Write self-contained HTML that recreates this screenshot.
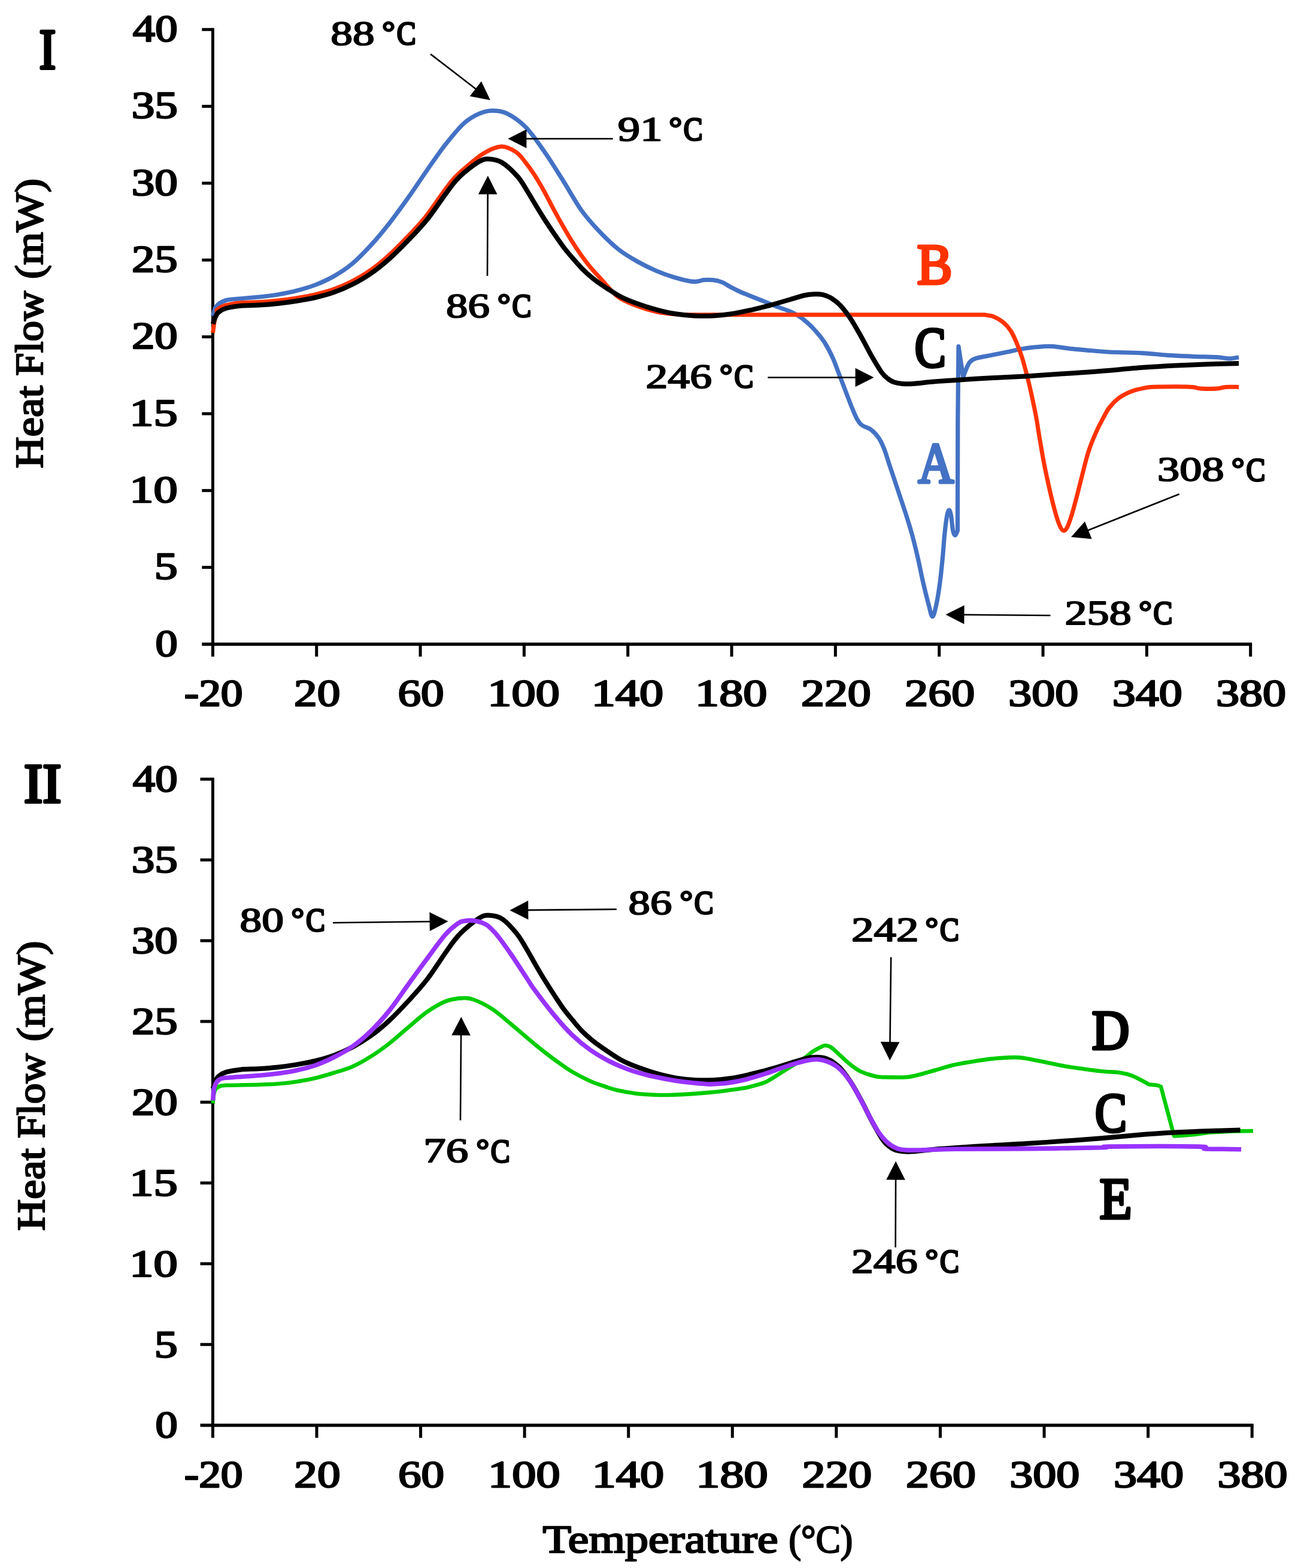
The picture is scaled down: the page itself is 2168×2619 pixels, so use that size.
<!DOCTYPE html>
<html lang="en">
<head>
<meta charset="utf-8">
<title>DSC thermograms</title>
<style>
html,body{margin:0;padding:0;background:#fff;}
body{width:2168px;height:2619px;overflow:hidden;}
svg{display:block;}
svg text{font-family:"Liberation Serif","DejaVu Serif",serif;font-weight:normal;stroke-linejoin:round;}
</style>
</head>
<body>
<svg width="2168" height="2619" viewBox="0 0 2168 2619">
<rect width="2168" height="2619" fill="#fff"/>
<g id="plot1">
<rect x="352.90" y="46.80" width="5.0" height="1049.90" fill="#000"/>
<rect x="337.30" y="1073.30" width="1753.90" height="5.4" fill="#000"/>
<rect x="337.30" y="46.80" width="18.10" height="5.0" fill="#000"/>
<rect x="337.30" y="175.14" width="18.10" height="5.0" fill="#000"/>
<rect x="337.30" y="303.48" width="18.10" height="5.0" fill="#000"/>
<rect x="337.30" y="431.81" width="18.10" height="5.0" fill="#000"/>
<rect x="337.30" y="560.15" width="18.10" height="5.0" fill="#000"/>
<rect x="337.30" y="688.49" width="18.10" height="5.0" fill="#000"/>
<rect x="337.30" y="816.83" width="18.10" height="5.0" fill="#000"/>
<rect x="337.30" y="945.16" width="18.10" height="5.0" fill="#000"/>
<rect x="526.23" y="1076.00" width="5.0" height="20.70" fill="#000"/>
<rect x="699.56" y="1076.00" width="5.0" height="20.70" fill="#000"/>
<rect x="872.89" y="1076.00" width="5.0" height="20.70" fill="#000"/>
<rect x="1046.22" y="1076.00" width="5.0" height="20.70" fill="#000"/>
<rect x="1219.55" y="1076.00" width="5.0" height="20.70" fill="#000"/>
<rect x="1392.88" y="1076.00" width="5.0" height="20.70" fill="#000"/>
<rect x="1566.21" y="1076.00" width="5.0" height="20.70" fill="#000"/>
<rect x="1739.54" y="1076.00" width="5.0" height="20.70" fill="#000"/>
<rect x="1912.87" y="1076.00" width="5.0" height="20.70" fill="#000"/>
<rect x="2086.20" y="1076.00" width="5.0" height="20.70" fill="#000"/>
<path d="M355.6 528.0C356.2 525.8 357.8 518.0 359.5 514.5C361.2 511.0 363.4 509.0 366.0 507.0C368.6 505.0 371.6 503.7 375.0 502.5C378.4 501.3 376.9 501.1 386.6 500.0C396.3 498.9 420.2 497.3 433.2 496.0C446.1 494.7 453.9 493.8 464.3 492.0C474.7 490.2 485.0 488.2 495.4 485.5C505.8 482.8 516.0 480.0 526.4 476.0C536.8 472.0 547.1 467.4 557.5 461.5C567.9 455.6 578.2 449.0 588.6 440.3C599.0 431.6 609.2 420.8 619.6 409.5C630.0 398.2 640.3 385.6 650.7 372.4C661.1 359.2 671.4 344.8 681.8 330.2C692.1 315.6 702.4 299.8 712.8 285.0C723.1 270.2 733.5 254.7 743.9 241.5C754.3 228.3 765.6 214.5 775.0 205.9C784.4 197.3 792.2 193.5 800.0 190.0C807.8 186.5 813.8 184.9 821.6 184.8C829.4 184.7 837.2 184.9 846.6 189.5C856.0 194.1 867.4 201.6 877.7 212.1C888.1 222.6 898.4 237.8 908.7 252.5C919.1 267.2 929.4 284.1 939.8 300.5C950.2 316.9 960.5 336.5 970.9 351.0C981.3 365.5 991.6 376.6 1002.0 387.5C1012.4 398.4 1022.6 408.3 1033.0 416.5C1043.3 424.7 1053.7 430.6 1064.1 436.5C1074.5 442.4 1084.8 447.5 1095.2 452.0C1105.6 456.5 1116.5 460.3 1126.2 463.3C1135.9 466.3 1146.8 468.8 1153.4 469.9C1160.0 471.0 1162.2 470.3 1165.8 469.9C1169.4 469.5 1171.0 468.1 1175.2 467.7C1179.4 467.3 1185.5 467.1 1190.7 467.7C1195.9 468.3 1201.0 469.4 1206.2 471.5C1211.4 473.6 1216.6 477.5 1221.8 480.2C1227.0 482.9 1232.1 485.6 1237.3 487.9C1242.5 490.2 1245.0 491.0 1252.8 494.1C1260.6 497.2 1276.0 503.4 1283.9 506.5C1291.8 509.6 1294.3 510.8 1300.0 513.0C1305.7 515.2 1312.5 517.2 1318.0 519.5C1323.5 521.8 1327.8 523.8 1332.8 527.0C1337.8 530.2 1343.1 534.2 1348.0 538.5C1352.9 542.8 1357.2 547.0 1362.0 552.5C1366.8 558.0 1372.2 563.9 1377.0 571.5C1381.8 579.1 1386.6 588.2 1391.0 598.0C1395.4 607.8 1399.9 621.0 1403.6 630.5C1407.3 640.0 1409.8 646.8 1413.0 655.0C1416.2 663.2 1419.6 672.7 1422.6 680.0C1425.6 687.3 1428.2 694.0 1431.0 699.0C1433.8 704.0 1435.4 706.9 1439.4 710.0C1443.4 713.1 1450.3 714.3 1455.0 717.8C1459.7 721.3 1463.8 725.8 1467.4 731.1C1471.0 736.4 1473.6 741.9 1476.7 749.7C1479.8 757.5 1482.9 768.4 1486.0 777.7C1489.1 787.0 1492.3 796.3 1495.4 805.6C1498.5 814.9 1501.6 824.3 1504.7 833.6C1507.8 842.9 1510.9 851.8 1514.0 861.6C1517.1 871.4 1520.2 881.2 1523.3 892.6C1526.4 904.0 1529.5 916.4 1532.6 929.9C1535.7 943.4 1538.9 959.9 1542.0 973.4C1545.1 986.9 1548.7 1001.3 1551.3 1010.7C1553.9 1020.1 1555.4 1030.0 1557.5 1030.0C1559.6 1030.0 1561.6 1020.1 1563.7 1010.7C1565.8 1001.3 1568.1 986.9 1569.9 973.4C1571.7 959.9 1573.3 943.4 1574.6 929.9C1575.9 916.4 1576.5 904.0 1577.7 892.6C1578.9 881.2 1580.4 868.3 1581.7 861.6C1583.0 854.9 1584.2 852.2 1585.4 852.2C1586.6 852.2 1587.5 855.9 1588.6 861.6C1589.6 867.3 1590.6 881.0 1591.7 886.4C1592.8 891.8 1594.1 894.2 1595.4 894.2C1596.7 894.2 1598.7 887.7 1599.4 886.4L1599.8 700.0L1601.0 578.7L1608.8 630.0C1609.6 627.9 1611.6 621.6 1613.4 617.5C1615.2 613.4 1617.0 608.2 1619.6 605.1C1622.2 602.0 1623.8 600.7 1629.0 598.9C1634.2 597.1 1641.9 596.0 1650.7 594.2C1659.5 592.4 1671.5 590.1 1681.8 588.0C1692.1 585.9 1702.4 583.3 1712.8 581.8C1723.2 580.2 1736.1 579.2 1743.9 578.7C1751.7 578.2 1751.7 578.0 1759.5 578.7C1767.3 579.4 1780.2 581.6 1790.5 582.7C1800.8 583.8 1811.2 584.6 1821.6 585.5C1832.0 586.4 1838.2 587.3 1852.7 588.0C1867.2 588.7 1892.6 588.9 1908.9 589.8C1925.2 590.7 1936.6 592.4 1950.4 593.3C1964.2 594.2 1978.0 594.7 1991.8 595.3C2005.6 595.9 2023.1 596.1 2033.2 596.7C2043.3 597.3 2046.6 598.9 2052.6 598.9C2058.6 598.9 2066.3 597.1 2069.1 596.7" fill="none" stroke="#4472C4" stroke-width="7.2" stroke-linejoin="round" stroke-linecap="butt"/>
<path d="M355.6 556.0C356.1 552.5 357.4 540.8 358.5 535.0C359.6 529.2 361.8 524.0 362.5 521.0C363.2 518.0 360.4 518.9 362.6 517.1C364.8 515.3 369.4 512.1 375.9 510.2C382.4 508.3 392.1 506.6 401.6 505.7C411.1 504.8 422.5 505.1 432.9 504.5C443.3 503.9 453.5 503.1 463.8 502.0C474.1 500.9 484.4 499.5 494.6 497.9C504.9 496.2 515.1 494.5 525.3 492.1C535.5 489.7 545.6 487.2 555.8 483.6C566.0 480.0 576.1 475.7 586.3 470.5C596.5 465.3 606.6 459.6 616.8 452.6C627.0 445.6 637.2 437.4 647.4 428.3C657.6 419.2 668.0 408.6 678.2 398.0C688.5 387.4 698.6 377.1 708.9 364.4C719.2 351.6 732.0 332.2 739.9 321.5C747.8 310.8 750.9 306.3 756.2 300.2C761.5 294.1 769.0 287.5 771.5 285.0C777.3 280.4 795.2 263.9 806.1 257.2C817.0 250.5 827.8 245.3 837.1 244.8C846.4 244.3 855.3 249.7 862.1 254.1C868.9 258.5 872.5 264.7 877.7 271.2C882.9 277.7 888.0 284.9 893.2 292.9C898.4 300.9 903.5 310.0 908.7 319.3C913.9 328.6 919.1 339.2 924.3 348.8C929.5 358.4 934.6 367.7 939.8 376.8C945.0 385.9 950.2 394.9 955.4 403.2C960.6 411.5 965.7 419.2 970.9 426.5C976.1 433.8 981.2 440.5 986.4 446.7C991.6 452.9 996.4 457.6 1002.0 463.8C1007.6 470.0 1014.2 478.3 1019.8 484.0C1025.4 489.7 1027.6 493.3 1035.4 498.0C1043.2 502.7 1056.1 508.2 1066.4 512.0C1076.8 515.8 1087.1 518.8 1097.5 521.0C1107.9 523.2 1119.8 524.2 1128.6 525.0C1137.3 525.8 1146.4 525.7 1150.0 525.8L1644.5 525.8C1647.1 526.3 1654.8 526.8 1660.0 528.9C1665.2 531.0 1670.9 534.4 1675.6 538.3C1680.3 542.2 1684.4 546.8 1688.0 552.2C1691.6 557.6 1694.2 563.6 1697.3 570.9C1700.4 578.1 1704.0 587.9 1706.6 595.7C1709.2 603.5 1710.7 609.7 1712.8 617.5C1714.9 625.3 1717.0 633.5 1719.1 642.3C1721.2 651.1 1723.2 660.4 1725.3 670.3C1727.4 680.1 1729.7 691.4 1731.5 701.4C1733.3 711.4 1734.0 717.8 1736.1 730.0C1738.2 742.2 1741.1 759.9 1743.9 774.6C1746.8 789.3 1750.1 804.6 1753.2 818.1C1756.3 831.6 1759.7 845.3 1762.5 855.4C1765.3 865.5 1768.0 873.5 1770.3 878.7C1772.6 883.9 1774.4 886.1 1776.5 886.4C1778.6 886.6 1780.4 884.9 1782.7 880.2C1785.0 875.6 1787.7 867.8 1790.5 858.5C1793.3 849.2 1796.7 836.2 1799.8 824.3C1802.9 812.4 1806.1 798.9 1809.2 787.0C1812.3 775.1 1814.9 763.7 1818.5 752.8C1822.1 741.9 1826.8 731.0 1830.9 721.7C1835.0 712.4 1839.7 703.8 1843.3 697.0C1846.9 690.2 1848.7 686.2 1852.7 681.0C1856.7 675.8 1862.7 669.6 1867.5 665.7C1872.3 661.8 1876.7 659.7 1881.3 657.4C1885.9 655.1 1890.5 653.4 1895.1 651.9C1899.7 650.4 1904.3 649.5 1908.9 648.6C1913.5 647.7 1913.6 646.9 1922.8 646.4C1932.0 645.9 1952.7 645.8 1964.2 645.8C1975.7 645.8 1984.9 645.8 1991.8 646.4C1998.7 647.0 1998.7 648.6 2005.6 649.1C2012.5 649.6 2026.3 649.6 2033.2 649.1C2040.1 648.6 2041.0 646.9 2047.0 646.4C2053.0 645.9 2065.4 646.4 2069.1 646.4" fill="none" stroke="#FF3300" stroke-width="7.0" stroke-linejoin="round" stroke-linecap="butt"/>
<path d="M355.6 541.0C356.3 539.0 358.4 532.2 360.0 529.0C361.6 525.8 362.0 523.8 364.9 521.5C367.8 519.2 371.1 516.8 377.3 515.0C383.5 513.2 392.8 511.6 402.1 510.7C411.4 509.8 422.8 510.1 433.2 509.5C443.6 508.9 453.9 508.1 464.3 507.0C474.7 505.9 485.0 504.5 495.4 502.8C505.8 501.1 516.0 499.4 526.4 497.0C536.8 494.6 547.1 492.0 557.5 488.3C567.9 484.6 578.2 480.3 588.6 475.0C599.0 469.7 609.2 463.9 619.6 456.7C630.0 449.5 640.3 441.2 650.7 432.0C661.1 422.8 671.4 412.2 681.8 401.5C692.1 390.8 702.4 380.3 712.8 367.5C723.1 354.7 736.0 335.2 743.9 324.5C751.8 313.8 754.8 309.5 760.0 303.5C765.2 297.5 768.3 294.1 775.0 288.5C781.7 282.9 793.3 273.8 800.0 270.0C806.7 266.2 809.0 265.4 815.4 265.6C821.8 265.9 830.3 266.6 838.5 271.5C846.7 276.4 857.6 287.2 864.6 295.0C871.6 302.8 875.0 310.1 880.2 318.3C885.4 326.5 890.5 335.8 895.7 344.2C900.9 352.6 906.0 361.0 911.2 369.0C916.4 377.0 921.6 384.8 926.8 392.3C932.0 399.8 937.1 407.4 942.3 414.1C947.5 420.8 952.7 426.8 957.9 432.7C963.1 438.6 968.2 444.6 973.4 449.8C978.6 455.0 983.7 459.5 988.9 463.8C994.1 468.1 996.3 470.1 1004.5 475.5C1012.7 480.9 1027.2 490.8 1037.9 496.3C1048.6 501.8 1058.6 505.1 1068.9 508.7C1079.2 512.3 1089.5 515.5 1099.5 518.1C1109.5 520.7 1118.6 522.8 1128.6 524.3C1138.6 525.8 1149.2 526.9 1159.6 527.4C1169.9 527.9 1180.3 527.9 1190.7 527.4C1201.1 526.9 1211.5 525.8 1221.8 524.3C1232.1 522.8 1242.4 520.4 1252.8 518.1C1263.2 515.8 1276.0 512.5 1283.9 510.5C1291.8 508.5 1293.0 508.0 1300.0 506.0C1307.0 504.0 1318.4 500.5 1325.9 498.3C1333.4 496.1 1339.8 494.1 1345.0 493.0C1350.2 491.9 1352.8 491.6 1357.0 491.4C1361.2 491.2 1366.2 491.2 1370.0 491.6C1373.8 492.0 1376.7 492.8 1380.0 494.0C1383.3 495.2 1386.1 496.3 1390.0 499.0C1393.9 501.7 1398.5 504.5 1403.6 510.1C1408.7 515.7 1415.0 523.9 1420.8 532.5C1426.5 541.1 1432.3 551.5 1438.1 561.8C1443.9 572.0 1449.7 584.0 1455.4 594.0C1461.2 604.0 1468.0 615.6 1472.6 622.0C1477.2 628.4 1479.6 629.8 1483.0 632.5C1486.4 635.2 1489.0 636.9 1493.0 638.3C1497.0 639.7 1501.9 640.5 1507.1 640.9C1512.3 641.3 1515.8 641.5 1524.4 640.9C1533.0 640.3 1548.2 638.4 1558.9 637.5C1569.6 636.6 1573.3 636.5 1588.6 635.5C1603.9 634.5 1630.0 632.7 1650.7 631.5C1671.4 630.3 1692.1 629.6 1712.8 628.4C1733.5 627.2 1754.3 625.7 1775.0 624.3C1795.7 622.9 1814.8 621.8 1837.1 620.0C1859.4 618.2 1887.7 615.4 1908.9 613.8C1930.1 612.2 1945.8 611.4 1964.2 610.5C1982.6 609.6 2001.9 608.9 2019.4 608.3C2036.9 607.7 2060.8 607.1 2069.1 606.9" fill="none" stroke="#000000" stroke-width="8.0" stroke-linejoin="round" stroke-linecap="butt"/>
<text transform="translate(221.82,68.85) scale(1.1889,1)" font-size="62.95" fill="#000" stroke="#000" stroke-width="2.5" xml:space="preserve">40</text>
<text transform="translate(219.64,197.19) scale(1.2255,1)" font-size="62.95" fill="#000" stroke="#000" stroke-width="2.5" xml:space="preserve">35</text>
<text transform="translate(219.64,325.52) scale(1.2242,1)" font-size="62.95" fill="#000" stroke="#000" stroke-width="2.5" xml:space="preserve">30</text>
<text transform="translate(219.95,453.86) scale(1.2205,1)" font-size="62.95" fill="#000" stroke="#000" stroke-width="2.5" xml:space="preserve">25</text>
<text transform="translate(219.95,582.20) scale(1.2193,1)" font-size="62.95" fill="#000" stroke="#000" stroke-width="2.5" xml:space="preserve">20</text>
<text transform="translate(216.32,710.54) scale(1.2793,1)" font-size="62.95" fill="#000" stroke="#000" stroke-width="2.5" xml:space="preserve">15</text>
<text transform="translate(216.33,838.88) scale(1.2779,1)" font-size="62.95" fill="#000" stroke="#000" stroke-width="2.5" xml:space="preserve">10</text>
<text transform="translate(257.82,967.21) scale(1.2385,1)" font-size="62.95" fill="#000" stroke="#000" stroke-width="2.5" xml:space="preserve">5</text>
<text transform="translate(259.44,1095.55) scale(1.1824,1)" font-size="62.95" fill="#000" stroke="#000" stroke-width="2.5" xml:space="preserve">0</text>
<text transform="translate(307.68,1179.05) scale(1.1642,1)" font-size="63.10" fill="#000" stroke="#000" stroke-width="2.5" xml:space="preserve">-20</text>
<text transform="translate(491.06,1179.05) scale(1.2248,1)" font-size="63.10" fill="#000" stroke="#000" stroke-width="2.5" xml:space="preserve">20</text>
<text transform="translate(664.47,1179.05) scale(1.2235,1)" font-size="63.10" fill="#000" stroke="#000" stroke-width="2.5" xml:space="preserve">60</text>
<text transform="translate(814.37,1179.05) scale(1.2725,1)" font-size="63.10" fill="#000" stroke="#000" stroke-width="2.5" xml:space="preserve">100</text>
<text transform="translate(987.70,1179.05) scale(1.2725,1)" font-size="63.10" fill="#000" stroke="#000" stroke-width="2.5" xml:space="preserve">140</text>
<text transform="translate(1161.03,1179.05) scale(1.2725,1)" font-size="63.10" fill="#000" stroke="#000" stroke-width="2.5" xml:space="preserve">180</text>
<text transform="translate(1337.95,1179.05) scale(1.2341,1)" font-size="63.10" fill="#000" stroke="#000" stroke-width="2.5" xml:space="preserve">220</text>
<text transform="translate(1511.28,1179.05) scale(1.2341,1)" font-size="63.10" fill="#000" stroke="#000" stroke-width="2.5" xml:space="preserve">260</text>
<text transform="translate(1684.30,1179.05) scale(1.2375,1)" font-size="63.10" fill="#000" stroke="#000" stroke-width="2.5" xml:space="preserve">300</text>
<text transform="translate(1857.63,1179.05) scale(1.2375,1)" font-size="63.10" fill="#000" stroke="#000" stroke-width="2.5" xml:space="preserve">340</text>
<text transform="translate(2030.96,1179.05) scale(1.2375,1)" font-size="63.10" fill="#000" stroke="#000" stroke-width="2.5" xml:space="preserve">380</text>
<text transform="translate(71.10,781.40) rotate(-90)" y="0" font-size="65.95" fill="#000" stroke="#000" stroke-width="2.4"><tspan x="-0.78" textLength="137.87" lengthAdjust="spacingAndGlyphs">Heat</tspan> <tspan x="153.77" textLength="141.78" lengthAdjust="spacingAndGlyphs">Flow</tspan> <tspan x="315.49" textLength="167.92" lengthAdjust="spacingAndGlyphs">(mW)</tspan></text>
<text transform="translate(65.46,114.90) scale(0.8718,1)" font-size="95.73" fill="#000" stroke="#000" stroke-width="5.0" xml:space="preserve">I</text>
<text y="75.00" font-size="57.44" fill="#000" stroke="#000" stroke-width="2.0"><tspan x="552.38" textLength="73.44" lengthAdjust="spacingAndGlyphs">88</tspan> <tspan x="638.33" y="70.31" font-size="48.51" stroke-width="2.9" textLength="21.59" lengthAdjust="spacingAndGlyphs">°</tspan><tspan x="662.69" y="74.34" font-size="55.95" stroke-width="3.4" textLength="31.89" lengthAdjust="spacingAndGlyphs">C</tspan></text>
<text y="235.10" font-size="57.44" fill="#000" stroke="#000" stroke-width="2.0"><tspan x="1031.89" textLength="74.69" lengthAdjust="spacingAndGlyphs">91</tspan> <tspan x="1117.43" y="230.41" font-size="48.51" stroke-width="2.9" textLength="21.59" lengthAdjust="spacingAndGlyphs">°</tspan><tspan x="1141.79" y="234.44" font-size="55.95" stroke-width="3.4" textLength="31.89" lengthAdjust="spacingAndGlyphs">C</tspan></text>
<text y="529.70" font-size="57.44" fill="#000" stroke="#000" stroke-width="2.0"><tspan x="745.09" textLength="72.81" lengthAdjust="spacingAndGlyphs">86</tspan> <tspan x="831.03" y="525.01" font-size="48.51" stroke-width="2.9" textLength="21.59" lengthAdjust="spacingAndGlyphs">°</tspan><tspan x="855.39" y="529.04" font-size="55.95" stroke-width="3.4" textLength="31.89" lengthAdjust="spacingAndGlyphs">C</tspan></text>
<text y="647.90" font-size="57.44" fill="#000" stroke="#000" stroke-width="2.0"><tspan x="1078.44" textLength="110.57" lengthAdjust="spacingAndGlyphs">246</tspan> <tspan x="1202.13" y="643.21" font-size="48.51" stroke-width="2.9" textLength="21.59" lengthAdjust="spacingAndGlyphs">°</tspan><tspan x="1226.49" y="647.24" font-size="55.95" stroke-width="3.4" textLength="31.89" lengthAdjust="spacingAndGlyphs">C</tspan></text>
<text y="1042.80" font-size="57.44" fill="#000" stroke="#000" stroke-width="2.0"><tspan x="1778.53" textLength="111.20" lengthAdjust="spacingAndGlyphs">258</tspan> <tspan x="1902.23" y="1038.11" font-size="48.51" stroke-width="2.9" textLength="21.59" lengthAdjust="spacingAndGlyphs">°</tspan><tspan x="1926.59" y="1042.14" font-size="55.95" stroke-width="3.4" textLength="31.89" lengthAdjust="spacingAndGlyphs">C</tspan></text>
<text y="803.20" font-size="57.44" fill="#000" stroke="#000" stroke-width="2.0"><tspan x="1933.14" textLength="111.50" lengthAdjust="spacingAndGlyphs">308</tspan> <tspan x="2057.13" y="798.51" font-size="48.51" stroke-width="2.9" textLength="21.59" lengthAdjust="spacingAndGlyphs">°</tspan><tspan x="2081.49" y="802.54" font-size="55.95" stroke-width="3.4" textLength="31.89" lengthAdjust="spacingAndGlyphs">C</tspan></text>
<text transform="translate(1531.80,473.60) scale(0.9339,1)" font-size="94.35" fill="#FF3300" stroke="#FF3300" stroke-width="5.0" xml:space="preserve">B</text>
<text transform="translate(1527.76,612.50) scale(0.8268,1)" font-size="94.64" fill="#000" stroke="#000" stroke-width="5.0" xml:space="preserve">C</text>
<text transform="translate(1533.38,806.20) scale(0.8763,1)" font-size="94.55" fill="#4472C4" stroke="#4472C4" stroke-width="5.0" xml:space="preserve">A</text>
<line x1="719.1" y1="90.4" x2="795.9" y2="149.5" stroke="#000" stroke-width="2.6"/><polygon points="818.9,167.2 784.7,160.8 804.0,135.8" fill="#000"/>
<line x1="1023.7" y1="231.7" x2="877.4" y2="231.7" stroke="#000" stroke-width="2.6"/><polygon points="848.4,231.7 879.4,215.9 879.4,247.5" fill="#000"/>
<line x1="814.0" y1="460.7" x2="814.7" y2="322.5" stroke="#000" stroke-width="2.6"/><polygon points="814.9,293.5 830.5,324.6 798.9,324.4" fill="#000"/>
<line x1="1282.4" y1="630.5" x2="1430.6" y2="630.5" stroke="#000" stroke-width="2.6"/><polygon points="1459.6,630.5 1428.6,646.3 1428.6,614.7" fill="#000"/>
<line x1="1754.5" y1="1028.0" x2="1608.5" y2="1026.7" stroke="#000" stroke-width="2.6"/><polygon points="1579.5,1026.5 1610.6,1011.0 1610.4,1042.6" fill="#000"/>
<line x1="1969.7" y1="825.3" x2="1816.0" y2="886.3" stroke="#000" stroke-width="2.6"/><polygon points="1789.0,897.0 1812.0,870.9 1823.6,900.3" fill="#000"/>
</g>
<g id="plot2">
<rect x="352.90" y="1298.90" width="5.0" height="1102.70" fill="#000"/>
<rect x="334.50" y="2377.90" width="1759.20" height="5.4" fill="#000"/>
<rect x="334.50" y="1298.90" width="20.90" height="5.0" fill="#000"/>
<rect x="334.50" y="1433.80" width="20.90" height="5.0" fill="#000"/>
<rect x="334.50" y="1568.70" width="20.90" height="5.0" fill="#000"/>
<rect x="334.50" y="1703.60" width="20.90" height="5.0" fill="#000"/>
<rect x="334.50" y="1838.50" width="20.90" height="5.0" fill="#000"/>
<rect x="334.50" y="1973.40" width="20.90" height="5.0" fill="#000"/>
<rect x="334.50" y="2108.30" width="20.90" height="5.0" fill="#000"/>
<rect x="334.50" y="2243.20" width="20.90" height="5.0" fill="#000"/>
<rect x="526.48" y="2380.60" width="5.0" height="21.00" fill="#000"/>
<rect x="700.06" y="2380.60" width="5.0" height="21.00" fill="#000"/>
<rect x="873.64" y="2380.60" width="5.0" height="21.00" fill="#000"/>
<rect x="1047.22" y="2380.60" width="5.0" height="21.00" fill="#000"/>
<rect x="1220.80" y="2380.60" width="5.0" height="21.00" fill="#000"/>
<rect x="1394.38" y="2380.60" width="5.0" height="21.00" fill="#000"/>
<rect x="1567.96" y="2380.60" width="5.0" height="21.00" fill="#000"/>
<rect x="1741.54" y="2380.60" width="5.0" height="21.00" fill="#000"/>
<rect x="1915.12" y="2380.60" width="5.0" height="21.00" fill="#000"/>
<rect x="2088.70" y="2380.60" width="5.0" height="21.00" fill="#000"/>
<path d="M355.6 1843.0C355.9 1840.5 356.4 1832.1 357.2 1828.0C358.0 1823.9 358.7 1820.8 360.5 1818.5C362.3 1816.2 364.8 1815.0 368.0 1814.0C371.2 1813.0 369.2 1813.1 380.0 1812.7C390.8 1812.3 419.0 1812.1 433.0 1811.7C447.0 1811.3 453.6 1811.1 464.0 1810.3C474.4 1809.5 485.0 1808.3 495.4 1806.7C505.8 1805.1 516.0 1803.2 526.4 1800.8C536.8 1798.3 547.1 1795.2 557.5 1792.0C567.9 1788.8 578.2 1786.1 588.6 1781.5C599.0 1776.9 609.2 1771.0 619.6 1764.5C630.0 1758.0 640.3 1750.6 650.7 1742.5C661.1 1734.4 671.4 1724.7 681.8 1716.0C692.1 1707.3 702.4 1697.7 712.8 1690.5C723.1 1683.3 734.6 1676.4 743.9 1672.6C753.2 1668.8 761.0 1667.9 768.8 1667.4C776.6 1666.9 781.7 1666.5 790.5 1669.5C799.3 1672.5 811.2 1678.4 821.6 1685.1C832.0 1691.8 840.8 1700.1 852.7 1709.9C864.6 1719.7 881.3 1734.3 893.2 1744.1C905.1 1753.9 913.9 1760.8 924.3 1768.5C934.7 1776.2 945.0 1783.8 955.4 1790.0C965.8 1796.2 977.1 1801.8 986.4 1806.0C995.7 1810.2 1003.8 1812.5 1011.3 1815.0C1018.8 1817.5 1022.6 1819.1 1031.1 1821.0C1039.6 1822.9 1051.8 1825.2 1062.1 1826.5C1072.4 1827.8 1082.8 1828.3 1093.2 1828.7C1103.6 1829.1 1113.9 1829.0 1124.3 1828.7C1134.7 1828.4 1145.1 1827.8 1155.4 1827.1C1165.8 1826.4 1176.1 1825.6 1186.4 1824.6C1196.8 1823.6 1207.1 1822.3 1217.5 1820.9C1227.9 1819.5 1238.2 1818.5 1248.6 1816.2C1258.9 1813.9 1269.2 1811.6 1279.6 1806.9C1289.9 1802.2 1300.3 1794.4 1310.7 1788.0C1321.1 1781.6 1334.0 1773.8 1341.8 1768.5C1349.6 1763.2 1352.1 1759.9 1357.3 1756.5C1362.5 1753.1 1369.2 1749.6 1372.8 1747.9C1376.4 1746.2 1376.5 1746.0 1379.1 1746.3C1381.7 1746.5 1384.3 1746.6 1388.4 1749.4C1392.5 1752.2 1398.7 1758.7 1403.9 1763.4C1409.1 1768.1 1414.3 1773.2 1419.5 1777.4C1424.7 1781.6 1429.8 1785.5 1435.0 1788.3C1440.2 1791.1 1445.3 1792.8 1450.5 1794.5C1455.7 1796.2 1460.9 1797.7 1466.1 1798.5C1471.3 1799.3 1473.8 1799.2 1481.6 1799.3C1489.4 1799.4 1504.5 1799.8 1512.7 1799.3C1521.0 1798.8 1522.9 1798.0 1531.1 1796.0C1539.3 1794.0 1551.8 1790.4 1562.1 1787.5C1572.4 1784.6 1582.8 1781.2 1593.2 1778.8C1603.6 1776.4 1613.9 1774.9 1624.3 1773.2C1634.7 1771.5 1645.1 1769.7 1655.4 1768.6C1665.8 1767.5 1678.6 1766.8 1686.4 1766.4C1694.2 1766.0 1696.8 1766.0 1702.0 1766.4C1707.2 1766.8 1709.7 1767.2 1717.5 1768.6C1725.3 1770.0 1738.2 1772.7 1748.6 1774.8C1758.9 1776.9 1769.2 1779.2 1779.6 1781.0C1789.9 1782.8 1800.2 1784.2 1810.7 1785.6C1821.2 1787.0 1832.4 1788.5 1842.3 1789.5C1852.2 1790.5 1861.8 1790.4 1869.9 1791.6C1878.0 1792.8 1883.6 1794.1 1891.0 1796.9C1898.4 1799.7 1910.4 1806.6 1914.3 1808.6L1918.6 1811.3L1933.4 1812.8L1939.0 1815.0L1961.0 1897.5L1975.0 1896.8L1995.0 1895.0L2020.0 1891.5L2060.0 1889.5L2093.0 1889.0" fill="none" stroke="#00CC00" stroke-width="6.6" stroke-linejoin="round" stroke-linecap="butt"/>
<path d="M355.6 1818.2C356.3 1816.1 358.4 1809.0 360.0 1805.6C361.6 1802.2 362.0 1800.2 364.9 1797.7C367.8 1795.2 371.1 1792.8 377.3 1790.9C383.5 1789.0 392.9 1787.4 402.2 1786.4C411.5 1785.4 422.9 1785.8 433.3 1785.1C443.7 1784.4 454.1 1783.7 464.5 1782.5C474.9 1781.3 485.2 1779.8 495.6 1778.1C506.0 1776.3 516.2 1774.5 526.6 1772.0C537.0 1769.5 547.4 1766.6 557.8 1762.8C568.2 1759.0 578.5 1754.4 588.9 1748.9C599.3 1743.4 609.6 1737.1 620.0 1729.6C630.4 1722.1 640.7 1713.4 651.1 1703.7C661.5 1694.0 671.9 1682.9 682.3 1671.6C692.7 1660.3 702.9 1649.4 713.3 1635.9C723.7 1622.4 736.6 1601.9 744.5 1590.7C752.4 1579.5 755.4 1574.9 760.6 1568.6C765.8 1562.3 768.9 1558.7 775.6 1552.8C782.3 1546.9 793.9 1537.4 800.6 1533.4C807.4 1529.4 809.7 1528.5 816.1 1528.8C822.5 1529.1 831.0 1529.8 838.9 1535.0C846.8 1540.2 856.6 1551.5 863.3 1559.7C870.0 1567.9 873.8 1575.6 879.0 1584.2C884.2 1592.8 889.3 1602.5 894.5 1611.4C899.7 1620.3 904.8 1629.0 910.0 1637.4C915.2 1645.8 920.4 1654.0 925.6 1661.9C930.8 1669.8 935.9 1677.8 941.1 1684.9C946.3 1692.0 951.6 1698.2 956.8 1704.4C962.0 1710.7 967.0 1717.0 972.3 1722.4C977.6 1727.9 983.0 1732.6 988.5 1737.1C994.0 1741.6 996.7 1743.7 1005.1 1749.4C1013.5 1755.1 1028.1 1765.5 1038.9 1771.3C1049.7 1777.1 1059.6 1780.5 1069.9 1784.3C1080.2 1788.1 1090.6 1791.5 1100.6 1794.2C1110.6 1796.9 1119.7 1799.1 1129.7 1800.7C1139.7 1802.3 1150.4 1803.4 1160.8 1803.9C1171.2 1804.4 1181.5 1804.4 1191.9 1803.9C1202.3 1803.4 1212.6 1802.3 1223.0 1800.7C1233.4 1799.1 1243.7 1796.6 1254.1 1794.2C1264.5 1791.8 1277.3 1788.3 1285.2 1786.2C1293.1 1784.1 1294.4 1783.6 1301.4 1781.5C1308.4 1779.4 1319.8 1775.7 1327.3 1773.4C1334.8 1771.1 1341.2 1769.0 1346.4 1767.8C1351.6 1766.6 1354.2 1766.3 1358.4 1766.1C1362.6 1765.8 1367.7 1765.8 1371.5 1766.3C1375.3 1766.8 1378.2 1767.5 1381.5 1768.8C1384.8 1770.1 1387.6 1771.3 1391.5 1774.1C1395.4 1776.9 1400.0 1779.9 1405.1 1785.8C1410.2 1791.7 1416.5 1800.2 1422.3 1809.3C1428.1 1818.3 1433.9 1829.3 1439.7 1840.1C1445.5 1850.9 1451.2 1863.5 1457.0 1874.0C1462.8 1884.5 1469.6 1896.7 1474.2 1903.4C1478.8 1910.1 1481.2 1911.6 1484.6 1914.4C1488.0 1917.2 1490.6 1919.0 1494.6 1920.5C1498.6 1922.0 1503.5 1922.8 1508.8 1923.3C1514.0 1923.8 1517.5 1923.9 1526.1 1923.3C1534.7 1922.7 1549.9 1920.7 1560.6 1919.7C1571.3 1918.8 1575.1 1918.6 1590.4 1917.6C1605.7 1916.5 1631.9 1914.7 1652.6 1913.4C1673.3 1912.2 1694.1 1911.4 1714.8 1910.1C1735.5 1908.8 1756.3 1907.3 1777.0 1905.8C1797.7 1904.3 1816.9 1903.1 1839.2 1901.3C1861.5 1899.5 1889.9 1896.5 1911.1 1894.8C1932.3 1893.1 1948.0 1892.3 1966.5 1891.3C1985.0 1890.3 2004.3 1889.6 2021.8 1889.0C2039.3 1888.4 2063.3 1887.8 2071.6 1887.5" fill="none" stroke="#000000" stroke-width="8.0" stroke-linejoin="round" stroke-linecap="butt"/>
<path d="M355.6 1838.0C355.9 1835.0 356.5 1824.6 357.2 1820.0C357.9 1815.4 358.5 1813.2 360.0 1810.5C361.5 1807.8 363.1 1805.2 366.0 1803.5C368.9 1801.8 366.1 1801.5 377.3 1800.3C388.5 1799.1 418.7 1797.5 433.2 1796.3C447.7 1795.1 453.9 1794.4 464.3 1793.0C474.7 1791.6 485.0 1790.0 495.4 1787.7C505.8 1785.5 516.0 1783.1 526.4 1779.5C536.8 1775.9 547.1 1771.2 557.5 1766.0C567.9 1760.8 578.2 1755.3 588.6 1748.0C599.0 1740.7 609.2 1732.1 619.6 1722.0C630.0 1711.9 640.3 1700.4 650.7 1687.5C661.1 1674.6 671.4 1658.8 681.8 1644.5C692.1 1630.2 702.4 1615.9 712.8 1602.0C723.1 1588.1 735.1 1571.0 743.9 1561.0C752.7 1551.0 760.4 1545.6 765.7 1541.8C771.1 1538.0 772.5 1539.0 776.0 1538.3C779.5 1537.6 783.5 1537.3 787.0 1537.4C790.5 1537.5 793.8 1538.1 797.0 1538.8C800.2 1539.5 803.1 1540.4 806.0 1541.6C808.9 1542.8 811.4 1543.7 814.5 1546.0C817.6 1548.3 821.1 1551.9 824.5 1555.5C827.9 1559.1 829.5 1560.7 834.6 1567.5C839.7 1574.3 847.7 1585.4 855.3 1596.5C862.9 1607.6 873.7 1624.5 880.0 1634.0C886.3 1643.5 885.8 1643.8 893.2 1653.8C900.6 1663.8 913.9 1681.5 924.3 1694.0C934.7 1706.5 945.0 1718.5 955.4 1728.5C965.8 1738.5 976.0 1746.7 986.4 1754.0C996.8 1761.3 1007.1 1767.2 1017.5 1772.5C1027.9 1777.8 1038.2 1782.2 1048.6 1786.0C1058.9 1789.8 1069.2 1792.6 1079.6 1795.3C1089.9 1798.0 1100.3 1800.0 1110.7 1802.0C1121.1 1804.0 1131.5 1805.7 1141.8 1807.0C1152.1 1808.3 1165.4 1809.3 1172.8 1810.0C1180.2 1810.7 1179.0 1811.2 1186.4 1810.9C1193.9 1810.7 1207.1 1810.0 1217.5 1808.5C1227.9 1807.0 1238.2 1804.8 1248.6 1802.2C1258.9 1799.6 1269.2 1796.3 1279.6 1792.9C1289.9 1789.5 1300.3 1785.4 1310.7 1782.0C1321.1 1778.6 1332.5 1774.8 1341.8 1772.7C1351.1 1770.6 1358.8 1769.1 1366.6 1769.6C1374.4 1770.1 1382.2 1772.9 1388.4 1775.8C1394.6 1778.7 1398.7 1781.8 1403.9 1786.7C1409.1 1791.6 1414.3 1797.9 1419.5 1805.4C1424.7 1812.9 1429.8 1822.5 1435.0 1831.8C1440.2 1841.1 1445.3 1851.7 1450.5 1861.3C1455.7 1870.9 1460.9 1881.4 1466.1 1889.2C1471.3 1897.0 1476.4 1903.1 1481.6 1907.9C1486.8 1912.7 1491.9 1915.6 1497.1 1917.8C1502.3 1920.0 1505.5 1920.4 1512.7 1920.9C1519.9 1921.4 1526.6 1921.2 1540.0 1920.9C1553.4 1920.6 1563.6 1919.6 1593.2 1919.2C1622.8 1918.8 1676.1 1919.0 1717.5 1918.6C1758.9 1918.2 1819.2 1917.4 1841.8 1916.8C1864.4 1916.2 1826.3 1915.4 1852.9 1915.1C1879.5 1914.8 1974.7 1914.5 2001.2 1915.1C2027.7 1915.7 2004.7 1918.0 2011.7 1918.7C2018.8 1919.4 2033.3 1919.1 2043.5 1919.3C2053.7 1919.5 2068.2 1919.6 2073.1 1919.7" fill="none" stroke="#9933FF" stroke-width="7.6" stroke-linejoin="round" stroke-linecap="butt"/>
<text transform="translate(221.82,1322.25) scale(1.1889,1)" font-size="62.95" fill="#000" stroke="#000" stroke-width="2.5" xml:space="preserve">40</text>
<text transform="translate(219.64,1457.15) scale(1.2255,1)" font-size="62.95" fill="#000" stroke="#000" stroke-width="2.5" xml:space="preserve">35</text>
<text transform="translate(219.64,1592.05) scale(1.2242,1)" font-size="62.95" fill="#000" stroke="#000" stroke-width="2.5" xml:space="preserve">30</text>
<text transform="translate(219.95,1726.95) scale(1.2205,1)" font-size="62.95" fill="#000" stroke="#000" stroke-width="2.5" xml:space="preserve">25</text>
<text transform="translate(219.95,1861.85) scale(1.2193,1)" font-size="62.95" fill="#000" stroke="#000" stroke-width="2.5" xml:space="preserve">20</text>
<text transform="translate(216.32,1996.75) scale(1.2793,1)" font-size="62.95" fill="#000" stroke="#000" stroke-width="2.5" xml:space="preserve">15</text>
<text transform="translate(216.33,2131.65) scale(1.2779,1)" font-size="62.95" fill="#000" stroke="#000" stroke-width="2.5" xml:space="preserve">10</text>
<text transform="translate(257.82,2266.55) scale(1.2385,1)" font-size="62.95" fill="#000" stroke="#000" stroke-width="2.5" xml:space="preserve">5</text>
<text transform="translate(259.44,2401.45) scale(1.1824,1)" font-size="62.95" fill="#000" stroke="#000" stroke-width="2.5" xml:space="preserve">0</text>
<text transform="translate(307.68,2484.05) scale(1.1642,1)" font-size="63.10" fill="#000" stroke="#000" stroke-width="2.5" xml:space="preserve">-20</text>
<text transform="translate(491.31,2484.05) scale(1.2248,1)" font-size="63.10" fill="#000" stroke="#000" stroke-width="2.5" xml:space="preserve">20</text>
<text transform="translate(664.97,2484.05) scale(1.2235,1)" font-size="63.10" fill="#000" stroke="#000" stroke-width="2.5" xml:space="preserve">60</text>
<text transform="translate(815.12,2484.05) scale(1.2725,1)" font-size="63.10" fill="#000" stroke="#000" stroke-width="2.5" xml:space="preserve">100</text>
<text transform="translate(988.70,2484.05) scale(1.2725,1)" font-size="63.10" fill="#000" stroke="#000" stroke-width="2.5" xml:space="preserve">140</text>
<text transform="translate(1162.28,2484.05) scale(1.2725,1)" font-size="63.10" fill="#000" stroke="#000" stroke-width="2.5" xml:space="preserve">180</text>
<text transform="translate(1339.45,2484.05) scale(1.2341,1)" font-size="63.10" fill="#000" stroke="#000" stroke-width="2.5" xml:space="preserve">220</text>
<text transform="translate(1513.03,2484.05) scale(1.2341,1)" font-size="63.10" fill="#000" stroke="#000" stroke-width="2.5" xml:space="preserve">260</text>
<text transform="translate(1686.30,2484.05) scale(1.2375,1)" font-size="63.10" fill="#000" stroke="#000" stroke-width="2.5" xml:space="preserve">300</text>
<text transform="translate(1859.88,2484.05) scale(1.2375,1)" font-size="63.10" fill="#000" stroke="#000" stroke-width="2.5" xml:space="preserve">340</text>
<text transform="translate(2033.46,2484.05) scale(1.2375,1)" font-size="63.10" fill="#000" stroke="#000" stroke-width="2.5" xml:space="preserve">380</text>
<text transform="translate(73.80,2055.00) rotate(-90)" y="0" font-size="65.95" fill="#000" stroke="#000" stroke-width="2.4"><tspan x="-0.78" textLength="137.87" lengthAdjust="spacingAndGlyphs">Heat</tspan> <tspan x="153.77" textLength="141.78" lengthAdjust="spacingAndGlyphs">Flow</tspan> <tspan x="315.49" textLength="167.92" lengthAdjust="spacingAndGlyphs">(mW)</tspan></text>
<text transform="translate(40.02,1339.70) scale(1.0007,1)" font-size="93.59" fill="#000" stroke="#000" stroke-width="5.0" xml:space="preserve">II</text>
<text y="1555.80" font-size="57.44" fill="#000" stroke="#000" stroke-width="2.0"><tspan x="400.58" textLength="73.44" lengthAdjust="spacingAndGlyphs">80</tspan> <tspan x="486.53" y="1551.11" font-size="48.51" stroke-width="2.9" textLength="21.59" lengthAdjust="spacingAndGlyphs">°</tspan><tspan x="510.89" y="1555.14" font-size="55.95" stroke-width="3.4" textLength="31.89" lengthAdjust="spacingAndGlyphs">C</tspan></text>
<text y="1527.00" font-size="57.29" fill="#000" stroke="#000" stroke-width="2.0"><tspan x="1049.50" textLength="72.80" lengthAdjust="spacingAndGlyphs">86</tspan> <tspan x="1135.43" y="1522.41" font-size="48.51" stroke-width="2.9" textLength="21.59" lengthAdjust="spacingAndGlyphs">°</tspan><tspan x="1159.80" y="1526.34" font-size="55.80" stroke-width="3.4" textLength="31.89" lengthAdjust="spacingAndGlyphs">C</tspan></text>
<text y="1941.30" font-size="57.44" fill="#000" stroke="#000" stroke-width="2.0"><tspan x="707.36" textLength="74.96" lengthAdjust="spacingAndGlyphs">76</tspan> <tspan x="795.43" y="1936.61" font-size="48.51" stroke-width="2.9" textLength="21.59" lengthAdjust="spacingAndGlyphs">°</tspan><tspan x="819.79" y="1940.64" font-size="55.95" stroke-width="3.4" textLength="31.89" lengthAdjust="spacingAndGlyphs">C</tspan></text>
<text y="1571.60" font-size="57.29" fill="#000" stroke="#000" stroke-width="2.0"><tspan x="1421.91" textLength="112.52" lengthAdjust="spacingAndGlyphs">242</tspan> <tspan x="1545.63" y="1567.01" font-size="48.51" stroke-width="2.9" textLength="21.59" lengthAdjust="spacingAndGlyphs">°</tspan><tspan x="1570.00" y="1570.94" font-size="55.80" stroke-width="3.4" textLength="31.89" lengthAdjust="spacingAndGlyphs">C</tspan></text>
<text y="2125.60" font-size="57.44" fill="#000" stroke="#000" stroke-width="2.0"><tspan x="1421.94" textLength="110.57" lengthAdjust="spacingAndGlyphs">246</tspan> <tspan x="1545.63" y="2120.91" font-size="48.51" stroke-width="2.9" textLength="21.59" lengthAdjust="spacingAndGlyphs">°</tspan><tspan x="1569.99" y="2124.94" font-size="55.95" stroke-width="3.4" textLength="31.89" lengthAdjust="spacingAndGlyphs">C</tspan></text>
<text transform="translate(1823.83,1752.10) scale(0.9324,1)" font-size="92.98" fill="#000" stroke="#000" stroke-width="5.0" xml:space="preserve">D</text>
<text transform="translate(1828.88,1889.50) scale(0.8556,1)" font-size="93.01" fill="#000" stroke="#000" stroke-width="5.0" xml:space="preserve">C</text>
<text transform="translate(1836.53,2034.80) scale(0.9139,1)" font-size="97.10" fill="#000" stroke="#000" stroke-width="5.0" xml:space="preserve">E</text>
<line x1="556.0" y1="1541.2" x2="719.6" y2="1539.3" stroke="#000" stroke-width="2.6"/><polygon points="748.6,1539.0 717.8,1555.2 717.4,1523.6" fill="#000"/>
<line x1="1029.9" y1="1518.8" x2="880.3" y2="1520.1" stroke="#000" stroke-width="2.6"/><polygon points="851.3,1520.4 882.2,1504.3 882.4,1535.9" fill="#000"/>
<line x1="769.0" y1="1871.2" x2="770.1" y2="1727.4" stroke="#000" stroke-width="2.6"/><polygon points="770.3,1698.4 785.9,1729.5 754.3,1729.3" fill="#000"/>
<line x1="1488.2" y1="1598.7" x2="1486.5" y2="1742.2" stroke="#000" stroke-width="2.6"/><polygon points="1486.2,1771.2 1470.8,1740.0 1502.4,1740.4" fill="#000"/>
<line x1="1495.7" y1="2083.4" x2="1496.1" y2="1968.6" stroke="#000" stroke-width="2.6"/><polygon points="1496.2,1939.6 1511.9,1970.7 1480.3,1970.5" fill="#000"/>
<text y="2592.70" font-size="64.73" fill="#000" stroke="#000" stroke-width="2.4"><tspan x="906.64" textLength="393.00" lengthAdjust="spacingAndGlyphs">Temperature</tspan> <tspan x="1317.54" textLength="106.73" lengthAdjust="spacingAndGlyphs">(°C)</tspan></text>
</g>
</svg>
</body>
</html>
